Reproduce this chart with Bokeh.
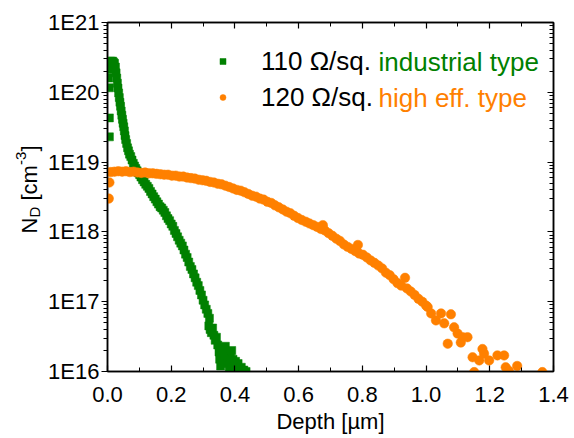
import math
from bokeh.plotting import figure
from bokeh.layouts import row
from bokeh.models import (Label, Legend, LegendItem, LinearAxis, LogAxis, FixedTicker)
from bokeh.embed import file_html
from bokeh.resources import INLINE

FONT = "Liberation Sans"
GREEN = "#008000"
ORANGE = "#ff8000"

# ---- data: 110 Ohm/sq industrial type (depth in um, N_D in cm^-3)
ind_depth = [0.003, 0.005, 0.006, 0.006, 0.006, 0.007, 0.010, 0.013, 0.016, 0.019,
             0.022, 0.025, 0.027, 0.029, 0.031, 0.033, 0.035, 0.037, 0.039, 0.041,
             0.043, 0.045, 0.047, 0.049, 0.051, 0.053, 0.055, 0.057, 0.060, 0.063,
             0.066, 0.069, 0.073, 0.077, 0.081, 0.085, 0.089, 0.093, 0.097, 0.101,
             0.105, 0.110, 0.115, 0.120, 0.125, 0.130, 0.135, 0.140, 0.145, 0.150,
             0.155, 0.160, 0.165, 0.170, 0.175, 0.180, 0.185, 0.190, 0.195, 0.200,
             0.205, 0.210, 0.215, 0.220, 0.225, 0.230, 0.235, 0.240, 0.245, 0.250,
             0.255, 0.260, 0.265, 0.270, 0.275, 0.280, 0.285, 0.290, 0.295, 0.300,
             0.305, 0.310, 0.315, 0.320, 0.318, 0.322, 0.326, 0.330, 0.334, 0.338,
             0.342, 0.346, 0.350, 0.352, 0.355, 0.358, 0.362, 0.366, 0.370, 0.374,
             0.378, 0.382, 0.386, 0.390, 0.394, 0.398, 0.402, 0.406, 0.410, 0.415,
             0.420, 0.428, 0.435]
ind_nd = [1.6e20, 2.1e20, 1.16e20, 4.3e19, 2.3e19, 2.6e20, 2.8e20, 2.7e20, 2.8e20, 2.7e20,
          2.6e20, 2.3e20, 1.9e20, 1.6e20, 1.35e20, 1.15e20, 9.8e19, 8.4e19, 7.2e19, 6.3e19,
          5.4e19, 4.7e19, 4.1e19, 3.6e19, 3.2e19, 2.8e19, 2.4e19, 2.1e19, 1.85e19, 1.6e19,
          1.45e19, 1.3e19, 1.2e19, 1.07e19, 9.6e18, 8.8e18, 8.1e18, 7.5e18, 7.0e18, 6.6e18,
          6.1e18, 5.6e18, 5.2e18, 4.8e18, 4.5e18, 4.2e18, 3.8e18, 3.5e18, 3.2e18, 2.95e18,
          2.7e18, 2.5e18, 2.3e18, 2.2e18, 2.05e18, 1.9e18, 1.7e18, 1.55e18, 1.45e18, 1.3e18,
          1.2e18, 1.05e18, 9.5e17, 8.5e17, 7.6e17, 6.9e17, 6.3e17, 5.5e17, 4.8e17, 4.3e17,
          3.7e17, 3.2e17, 2.9e17, 2.5e17, 2.2e17, 1.9e17, 1.7e17, 1.45e17, 1.25e17, 1.05e17,
          9.0e16, 7.8e16, 6.8e16, 5.8e16, 4.5e16, 4.0e16, 3.6e16, 4.2e16, 3.3e16, 2.8e16,
          3.1e16, 2.4e16, 1.9e16, 1.5e16, 1.2e16, 2.2e16, 1.7e16, 1.4e16, 2.3e16, 1.8e16,
          1.3e16, 1.1e16, 1.6e16, 2.0e16, 1.5e16, 1.2e16, 1.4e16, 1.1e16, 1.3e16, 1.0e16,
          1.15e16, 1.05e16, 1.0e16]

# ---- data: 120 Ohm/sq high efficiency type
eff_depth = [0.004, 0.006, 0.010, 0.022, 0.034, 0.046, 0.058, 0.070, 0.082, 0.094,
             0.106, 0.118, 0.130, 0.142, 0.154, 0.166, 0.178, 0.190, 0.202, 0.214,
             0.226, 0.238, 0.250, 0.262, 0.274, 0.286, 0.298, 0.310, 0.322, 0.334,
             0.346, 0.358, 0.370, 0.382, 0.394, 0.406, 0.418, 0.430, 0.442, 0.454,
             0.466, 0.478, 0.490, 0.502, 0.514, 0.526, 0.538, 0.550, 0.562, 0.574,
             0.586, 0.598, 0.610, 0.622, 0.634, 0.646, 0.658, 0.670, 0.676, 0.682,
             0.694, 0.706, 0.718, 0.730, 0.742, 0.754, 0.766, 0.778, 0.786, 0.790,
             0.802, 0.814, 0.826, 0.838, 0.850, 0.862, 0.874, 0.886, 0.898, 0.910,
             0.922, 0.934, 0.940, 0.952, 0.964, 0.976, 0.988, 1.000, 1.005, 1.016,
             1.031, 1.047, 1.057, 1.068, 1.078, 1.088, 1.099, 1.109, 1.115, 1.130,
             1.146, 1.151, 1.167, 1.177, 1.182, 1.198, 1.224, 1.245, 1.250, 1.260,
             1.286, 1.365]
eff_nd = [3.0e18, 5.1e18, 7.2e18, 7.3e18, 7.4e18, 7.3e18, 7.4e18, 7.2e18, 7.3e18, 7.1e18,
          7.0e18, 7.1e18, 6.9e18, 6.9e18, 6.8e18, 6.7e18, 6.6e18, 6.6e18, 6.4e18, 6.4e18,
          6.2e18, 6.2e18, 6.0e18, 5.9e18, 5.8e18, 5.6e18, 5.5e18, 5.4e18, 5.2e18, 5.1e18,
          4.9e18, 4.8e18, 4.6e18, 4.4e18, 4.2e18, 4.0e18, 3.9e18, 3.7e18, 3.5e18, 3.3e18,
          3.2e18, 3.0e18, 2.9e18, 2.7e18, 2.6e18, 2.4e18, 2.25e18, 2.1e18, 1.95e18, 1.85e18,
          1.7e18, 1.58e18, 1.48e18, 1.4e18, 1.32e18, 1.25e18, 1.18e18, 1.1e18, 1.25e18, 1.05e18,
          9.6e17, 8.8e17, 8.0e17, 7.4e17, 6.6e17, 6.1e17, 5.7e17, 5.3e17, 6.5e17, 4.9e17,
          4.7e17, 4.3e17, 3.9e17, 3.6e17, 3.3e17, 3.0e17, 2.6e17, 2.4e17, 2.1e17, 1.85e17,
          1.7e17, 2.2e17, 1.55e17, 1.4e17, 1.25e17, 1.1e17, 1.0e17, 8.8e16, 8.4e16, 6.8e16,
          5.4e16, 6.8e16, 4.9e16, 2.5e16, 6.6e16, 4.3e16, 3.5e16, 2.6e16, 3.1e16, 3.1e16,
          1.6e16, 9.8e15, 1.44e16, 2.1e16, 1.8e16, 1.44e16, 1.7e16, 1.7e16, 1.15e16, 1.02e16,
          1.2e16, 9.8e15]

x_ticks = [0.0, 0.2, 0.4, 0.6, 0.8, 1.0, 1.2, 1.4]
x_tick_labels = ["0.0", "0.2", "0.4", "0.6", "0.8", "1.0", "1.2", "1.4"]
x_minor = [0.1, 0.3, 0.5, 0.7, 0.9, 1.1, 1.3]
y_ticks = [1e16, 1e17, 1e18, 1e19, 1e20, 1e21]
y_tick_labels = ["1E16", "1E17", "1E18", "1E19", "1E20", "1E21"]
y_minor = [m * t for t in y_ticks[:-1] for m in range(2, 10)]

LW = 45  # width of the strip that carries the rotated y title

p = figure(width=574 - LW, height=438, x_range=(0, 1.4), y_range=(1e16, 1e21),
           y_axis_type="log", output_backend="svg", toolbar_location=None,
           min_border_left=105 - LW, min_border_right=21, min_border_top=22,
           min_border_bottom=67)
p.xgrid.visible = False
p.ygrid.visible = False
p.outline_line_color = "black"
p.outline_line_width = 1.5
p.background_fill_color = "white"
p.border_fill_color = "white"

r_ind = p.scatter(ind_depth, ind_nd, marker="square", size=8, fill_color=GREEN,
                  line_color=GREEN, line_width=0.5)
r_eff = p.scatter(eff_depth, eff_nd, marker="circle", size=9.5, fill_color=ORANGE,
                  line_color=ORANGE, line_width=0.5)

xt = FixedTicker(ticks=x_ticks, minor_ticks=x_minor)
yt = FixedTicker(ticks=y_ticks, minor_ticks=y_minor)


def style(ax, labels):
    ax.axis_line_color = "black"
    ax.axis_line_width = 1.5
    ax.major_tick_line_color = "black"
    ax.minor_tick_line_color = "black"
    ax.major_tick_line_width = 1.2
    ax.minor_tick_line_width = 1
    ax.major_label_text_font = FONT
    ax.major_label_text_font_size = "22px"
    ax.major_label_text_color = "black" if labels else None


xa = p.xaxis[0]
xa.ticker = xt
xa.major_label_overrides = dict(zip(x_ticks, x_tick_labels))
style(xa, True)
xa.major_tick_in = 6
xa.major_tick_out = 0
xa.minor_tick_in = 4
xa.minor_tick_out = 0
xa.major_label_standoff = 15
xa.axis_label = "Depth [µm]"
xa.axis_label_text_font = FONT
xa.axis_label_text_font_size = "22px"
xa.axis_label_text_font_style = "normal"
xa.axis_label_text_color = "black"
xa.axis_label_standoff = 4

ya = p.yaxis[0]
ya.ticker = yt
ya.major_label_overrides = dict(zip(y_ticks, y_tick_labels))
style(ya, True)
ya.major_tick_in = 0
ya.major_tick_out = 6
ya.minor_tick_in = 0
ya.minor_tick_out = 4
ya.major_label_standoff = 2

top = LinearAxis(ticker=xt)
style(top, False)
top.major_tick_in = 6
top.major_tick_out = 0
top.minor_tick_in = 4
top.minor_tick_out = 0
p.add_layout(top, "above")

right = LogAxis(ticker=yt)
style(right, False)
right.major_tick_in = 6
right.major_tick_out = 0
right.minor_tick_in = 4
right.minor_tick_out = 0
p.add_layout(right, "right")

legend = Legend(items=[LegendItem(label="110 Ω/sq.", renderers=[r_ind]),
                       LegendItem(label="120 Ω/sq.", renderers=[r_eff])],
                location=(108, 256), orientation="vertical",
                glyph_width=15, glyph_height=36, label_height=36,
                label_standoff=31, spacing=0, padding=0, margin=0,
                border_line_color=None, background_fill_alpha=0,
                label_text_font=FONT, label_text_font_size="26px",
                label_text_color="black")
p.add_layout(legend, "center")

p.add_layout(Label(x=271, y=310, x_units="screen", y_units="screen",
                   text="industrial type", text_color=GREEN, text_font=FONT,
                   text_font_size="26px", text_baseline="middle"))
p.add_layout(Label(x=271, y=274, x_units="screen", y_units="screen",
                   text="high eff. type", text_color=ORANGE, text_font=FONT,
                   text_font_size="26px", text_baseline="middle"))

# strip on the left carrying the rotated y-axis title: N_D [cm^-3]
# (its frame is aligned with the main frame by the row layout)
q = figure(width=LW, height=438, x_range=(0, LW), y_range=(0, 438),
           output_backend="svg", toolbar_location=None,
           x_axis_location=None, y_axis_location=None, min_border=0)
q.grid.visible = False
q.outline_line_color = None
q.background_fill_color = "white"
q.border_fill_color = "white"

ylab = [("N", 29, 138, "22px"), ("D", 34, 154, "15px"), ("[cm", 29, 171, "22px"),
        ("-3", 20, 206.5, "15px"), ("]", 29, 220, "22px")]
for t, xx, yy, fs in ylab:
    q.add_layout(Label(x=xx, y=yy, x_units="screen", y_units="screen", text=t,
                       angle=math.pi / 2, text_font=FONT, text_font_size=fs,
                       text_align="left", text_baseline="alphabetic",
                       text_color="black"))

layout = row(q, p, spacing=0)
open("out.html", "w").write(file_html(layout, INLINE))
